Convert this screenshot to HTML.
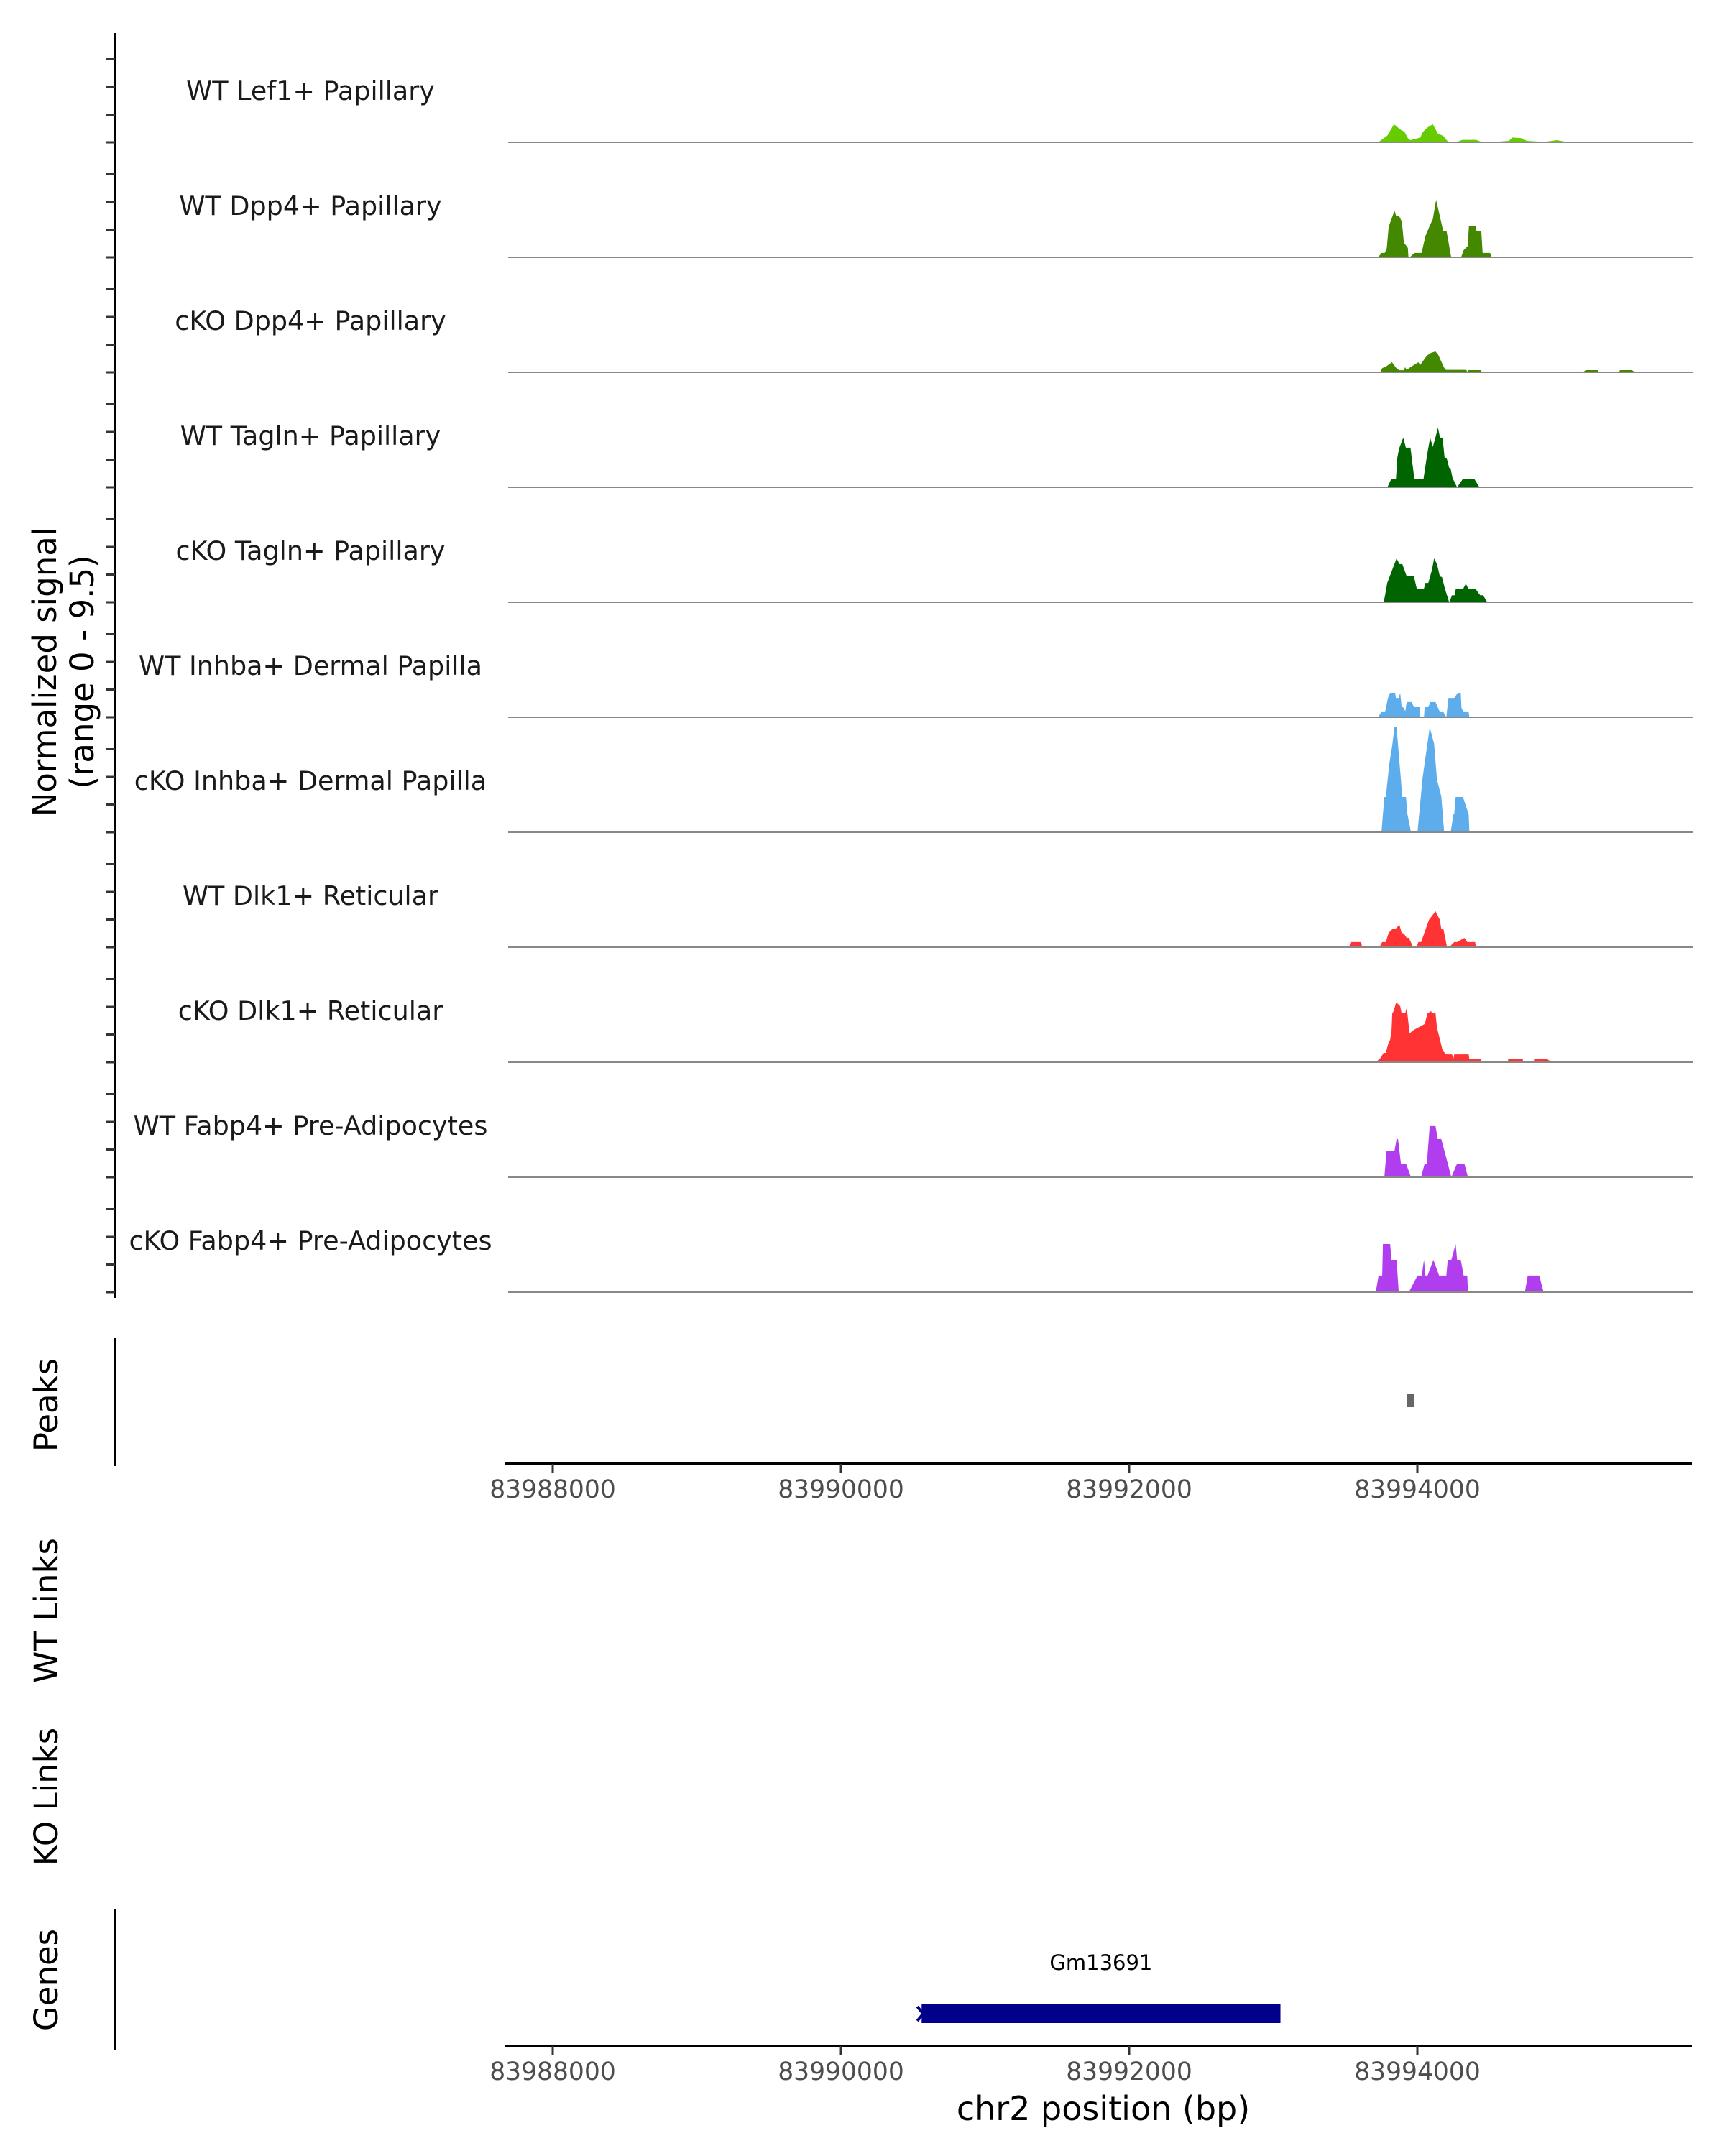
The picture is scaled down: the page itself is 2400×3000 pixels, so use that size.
<!DOCTYPE html>
<html><head><meta charset="utf-8"><style>
html,body{margin:0;padding:0;background:#fff;}
svg{display:block;font-family:"DejaVu Sans","Liberation Sans",sans-serif;}
</style></head><body>
<svg id="chart" width="2400" height="3000" viewBox="0 0 2400 3000" xmlns="http://www.w3.org/2000/svg">
<rect x="0" y="0" width="2400" height="3000" fill="#fff"/>
<g id="tracks"></g>
<g id="leftaxis"></g>
<text transform="translate(78,935) rotate(-90)" text-anchor="middle" font-size="45" fill="#000">Normalized signal</text>
<text transform="translate(130,935) rotate(-90)" text-anchor="middle" font-size="45" fill="#000">(range 0 - 9.5)</text>
<line x1="160" y1="1862" x2="160" y2="2040" stroke="#000" stroke-width="4"/>
<text transform="translate(80,1955) rotate(-90)" text-anchor="middle" font-size="45">Peaks</text>
<text transform="translate(80,2241) rotate(-90)" text-anchor="middle" font-size="45">WT Links</text>
<text transform="translate(80,2500) rotate(-90)" text-anchor="middle" font-size="45">KO Links</text>
<line x1="160" y1="2657" x2="160" y2="2852" stroke="#000" stroke-width="4"/>
<text transform="translate(80,2755) rotate(-90)" text-anchor="middle" font-size="45">Genes</text>
<g id="peaks"></g>
<g id="axis1"></g>
<g id="genes"></g>
<g id="axis2"></g>
<text x="1535" y="2950" text-anchor="middle" font-size="46" fill="#000">chr2 position (bp)</text>
</svg>
<script>
const trackNames = ["WT Lef1+ Papillary","WT Dpp4+ Papillary","cKO Dpp4+ Papillary","WT Tagln+ Papillary","cKO Tagln+ Papillary","WT Inhba+ Dermal Papilla","cKO Inhba+ Dermal Papilla","WT Dlk1+ Reticular","cKO Dlk1+ Reticular","WT Fabp4+ Pre-Adipocytes","cKO Fabp4+ Pre-Adipocytes"];
const trackColors = ["#66CC00","#448800","#448800","#006400","#006400","#5DADEC","#5DADEC","#FF3333","#FF3333","#B03DEE","#B03DEE"];
const xTicks = [83988000,83990000,83992000,83994000];
const yRange = [0,9.5];
const pos1 = [83993728,83993792,83993838,83993883,83993911,83993934,83993952,83994020,83994039,83994066,83994107,83994143,83994180,83994216,83994267,83994312,83994408,83994453,83994567,83994636,83994659,83994723,83994759,83994882,83994969,83995046,83995365,83995489];
const val1 = [0,0.56,1.49,1.05,0.86,0.34,0.18,0.39,0.86,1.19,1.49,0.71,0.53,0,0,0.2,0.2,0,0.06,0.12,0.39,0.34,0.12,0.03,0.18,0,0.06,0];
const pos2 = [83993728,83993751,83993774,83993788,83993801,83993842,83993852,83993874,83993893,83993906,83993934,83993938,83993947,83993979,83994029,83994057,83994084,83994107,83994130,83994180,83994203,83994235,83994303,83994321,83994349,83994358,83994403,83994412,83994444,83994453,83994504,83994517];
const val2 = [0,0.36,0.36,0.77,2.53,3.86,3.45,3.4,2.94,1.23,0.77,0,0,0.36,0.36,1.78,2.55,3.15,4.75,2.14,2.14,0,0,0.59,0.93,2.6,2.6,2.14,2.14,0.36,0.36,0];
const pos3 = [83993742,83993756,83993788,83993824,83993852,83993874,83993906,83993915,83993925,83993952,83994007,83994020,83994066,83994093,83994125,83994143,83994184,83994198,83994339,83994349,83994353,83994440,83994449,83995147,83995169,83995251,83995261,83995397,83995407,83995489,83995511];
const val3 = [0,0.34,0.52,0.83,0.38,0.17,0.17,0.42,0.2,0.42,0.83,0.61,1.37,1.6,1.72,1.49,0.42,0.2,0.2,0,0.18,0.18,0,0,0.18,0.18,0,0,0.18,0.18,0];
const pos4 = [83993792,83993820,83993852,83993861,83993874,83993902,83993920,83993952,83993979,83994043,83994066,83994089,83994107,83994125,83994143,83994157,83994175,83994189,83994203,83994221,83994230,83994244,83994276,83994317,83994394,83994431];
const val4 = [0,0.71,0.71,2.44,3.21,4.1,3.27,3.27,0.71,0.71,2.55,4.1,3.33,4.1,4.93,4.1,4.1,2.44,2.44,1.6,1.6,0.77,0,0.71,0.71,0];
const pos5 = [83993766,83993776,83993791,83993806,83993856,83993876,83993896,83993926,83993976,83993996,83994046,83994056,83994076,83994101,83994116,83994136,83994156,83994171,83994191,83994221,83994241,83994261,83994266,83994316,83994336,83994356,83994406,83994436,83994456,83994486];
const val5 = [0,0.58,1.6,2.06,3.62,3.15,3.15,2.14,2.14,1.13,1.13,1.6,1.6,2.67,3.62,3.15,2.14,2.08,1.13,0,0.58,0.58,1.07,1.07,1.54,1.07,1.07,0.58,0.58,0];
const pos6 = [83993726,83993751,83993776,83993796,83993811,83993846,83993851,83993871,83993881,83993891,83993906,83993916,83993926,83993961,83993976,83994016,83994021,83994046,83994051,83994076,83994091,83994126,83994156,83994181,83994201,83994216,83994256,83994281,83994301,83994306,83994321,83994356,83994361];
const val6 = [0,0.42,0.42,1.6,2.02,2.02,1.6,1.6,2.02,0.89,0.77,0.48,1.25,1.25,0.83,0.83,0,0,0.83,0.83,1.25,1.25,0.42,0.42,0,1.6,1.6,2.02,2.02,0.77,0.42,0.42,0];
const pos7 = [83993751,83993761,83993771,83993781,83993806,83993826,83993841,83993856,83993896,83993921,83993931,83993956,83994001,83994036,83994086,83994116,83994136,83994166,83994186,83994231,83994251,83994256,83994266,83994316,83994356,83994361];
const val7 = [0,1.49,2.91,2.91,5.7,7.19,8.67,8.67,2.91,2.91,1.49,0,0,4.46,8.67,7.31,4.34,2.97,0,0,1.49,1.49,2.91,2.91,1.49,0];
const pos8 = [83993526,83993536,83993611,83993616,83993736,83993756,83993781,83993801,83993826,83993846,83993876,83993891,83993906,83993926,83993941,83993971,83993996,83994006,83994026,83994081,83994126,83994156,83994166,83994181,83994206,83994221,83994256,83994276,83994326,83994346,83994401,83994406];
const val8 = [0,0.42,0.42,0,0,0.42,0.42,1.19,1.49,1.49,1.84,1.19,1.13,0.77,0.77,0,0,0.42,0.42,2.26,2.97,2.26,1.49,1.49,0,0,0.42,0.42,0.77,0.42,0.42,0];
const pos9 = [83993711,83993741,83993766,83993781,83993801,83993811,83993821,83993826,83993836,83993851,83993861,83993881,83993891,83993916,83993926,83993946,83993976,83994051,83994071,83994096,83994101,83994126,83994136,83994176,83994201,83994241,83994251,83994256,83994356,83994361,83994441,83994446,83994626,83994631,83994731,83994736,83994806,83994811,83994901,83994936];
const val9 = [0,0.3,0.77,0.77,1.66,1.84,2.61,4.04,4.22,4.87,4.87,4.63,4.04,4.04,4.51,2.38,2.67,3.15,4.04,4.22,4.04,4.04,2.85,0.95,0.65,0.65,0.3,0.65,0.65,0.24,0.24,0,0,0.24,0.24,0,0,0.24,0.24,0];
const pos10 = [83993771,83993786,83993841,83993856,83993866,83993886,83993921,83993956,83994026,83994051,83994066,83994086,83994126,83994141,83994166,83994236,83994276,83994326,83994351];
const val10 = [0,2.14,2.14,3.15,3.15,1.13,1.13,0,0,1.13,1.13,4.22,4.22,3.15,3.15,0,1.13,1.13,0];
const pos11 = [83993711,83993731,83993756,83993761,83993811,83993821,83993856,83993871,83993941,83994001,83994031,83994046,83994056,83994071,83994111,83994151,83994201,83994211,83994236,83994266,83994276,83994301,83994321,83994346,83994351,83994746,83994766,83994846,83994876];
const val11 = [0,1.37,1.37,3.98,3.98,2.67,2.67,0,0,1.37,1.37,2.67,1.37,1.37,2.67,1.37,1.37,2.67,2.67,3.98,2.67,2.67,1.37,1.37,0,0,1.37,1.37,0];
const peakStarts = [83993930];
const peakEnds = [83993975];
const geneNames = ["Gm13691"];
const geneStarts = [83990560];
const geneEnds = [83993050];

const positions = [pos1,pos2,pos3,pos4,pos5,pos6,pos7,pos8,pos9,pos10,pos11];
const values = [val1,val2,val3,val4,val5,val6,val7,val8,val9,val10,val11];
const NS = "http://www.w3.org/2000/svg";
function xs(bp){ return 769 + (bp - 83988000) * 0.2005; }
const X0 = 707, X1 = 2355, TOP = 38, TH = 160;
function baseY(i){ return TOP + TH * (i + 1); }
function ys(i, v){ return baseY(i) - (v - yRange[0]) / (yRange[1] - yRange[0]) * TH; }
function mk(tag, attrs, parent){ const e = document.createElementNS(NS, tag); for (const k in attrs) e.setAttribute(k, attrs[k]); parent.appendChild(e); return e; }

const tracks = document.getElementById('tracks');
const leftaxis = document.getElementById('leftaxis');
const al = mk('line', {x1:160, y1:46, x2:160, y2:1806, stroke:'#000', 'stroke-width':4}, leftaxis);


for (let i = 0; i < trackNames.length; i++) {
  const g = mk('g', {}, tracks);
  
  
  const P = positions[i], V = values[i];
  let d = 'M' + xs(P[0]).toFixed(1) + ',' + baseY(i);
  for (let j = 0; j < P.length; j++) d += ' L' + xs(P[j]).toFixed(1) + ',' + ys(i, V[j]).toFixed(1);
  d += ' L' + xs(P[P.length - 1]).toFixed(1) + ',' + baseY(i) + ' Z';
  const a = mk('path', {d: d, fill: trackColors[i], stroke: 'none'}, g);
  
  
  const bl = mk('line', {x1: X0, y1: baseY(i), x2: X1, y2: baseY(i), stroke: '#888', 'stroke-width': 2}, g);
  
  
  const t = mk('text', {x: 432, y: baseY(i) - 59, 'text-anchor': 'middle', 'font-size': 36.5, fill: '#1a1a1a'}, g);
  
  
  t.textContent = trackNames[i];
  for (let k = 0; k < 4; k++) {
    const ty = baseY(i) - k * 38.5;
    const tk = mk('line', {x1: 148, y1: ty, x2: 160, y2: ty, stroke: '#333', 'stroke-width': 3}, leftaxis);
    
    
  }
}
const peaks = document.getElementById('peaks');
for (let i = 0; i < peakStarts.length; i++) {
  const r = mk('rect', {x: xs(peakStarts[i]), y: 1940, width: Math.max(8, xs(peakEnds[i]) - xs(peakStarts[i])), height: 18, fill: '#666'}, peaks);
  
  
}
function drawAxis(id, y){
  const g = document.getElementById(id);
  const l = mk('line', {x1: 703, y1: y, x2: 2354, y2: y, stroke: '#000', 'stroke-width': 4}, g);
  
  
  xTicks.forEach(v => {
    const tk = mk('line', {x1: xs(v), y1: y, x2: xs(v), y2: y + 12, stroke: '#333', 'stroke-width': 3}, g);
    
    
    const t = mk('text', {x: xs(v), y: y + 47, 'text-anchor': 'middle', 'font-size': 34.5, fill: '#4d4d4d'}, g);
    
    
    t.textContent = v;
  });
}
drawAxis('axis1', 2037);
drawAxis('axis2', 2847);
const genes = document.getElementById('genes');
for (let i = 0; i < geneNames.length; i++) {
  const x1 = xs(geneStarts[i]), x2 = xs(geneEnds[i]);
  const r = mk('rect', {x: x1, y: 2789, width: x2 - x1, height: 26, fill: '#00008B'}, genes);
  
  
  const ar = mk('path', {d: 'M' + (x1 - 6) + ',2792 L' + (x1 + 2) + ',2802 L' + (x1 - 6) + ',2812', fill: 'none', stroke: '#00008B', 'stroke-width': 4}, genes);
  
  
  const t = mk('text', {x: (x1 + x2) / 2, y: 2741, 'text-anchor': 'middle', 'font-size': 29, fill: '#000'}, genes);
  
  
  t.textContent = geneNames[i];
}
</script>
</body></html>
